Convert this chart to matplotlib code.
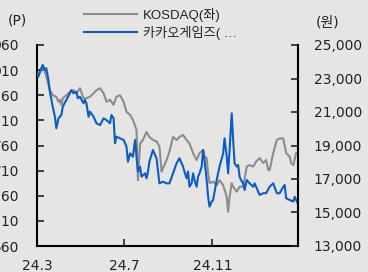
import matplotlib
matplotlib.use("Agg")
import matplotlib.pyplot as plt
import pandas as pd

plt.rcParams['font.family'] = ['DejaVu Sans', 'Noto Sans CJK KR']

# ========== DATA ==========
kosdaq_dates = [
    "2024-03-01", "2024-03-05", "2024-03-09", "2024-03-12", "2024-03-14", "2024-03-19",
    "2024-03-23", "2024-03-28", "2024-03-31", "2024-04-02", "2024-04-04", "2024-04-06",
    "2024-04-11", "2024-04-16", "2024-04-21", "2024-04-25", "2024-04-30", "2024-05-05",
    "2024-05-09", "2024-05-14", "2024-05-19", "2024-05-23", "2024-05-28", "2024-06-02",
    "2024-06-06", "2024-06-11", "2024-06-16", "2024-06-20", "2024-06-25", "2024-06-30",
    "2024-07-04", "2024-07-09", "2024-07-13", "2024-07-18", "2024-07-20", "2024-07-23",
    "2024-07-27", "2024-08-01", "2024-08-05", "2024-08-10", "2024-08-15", "2024-08-19",
    "2024-08-22", "2024-08-24", "2024-08-29", "2024-09-02", "2024-09-07", "2024-09-12",
    "2024-09-16", "2024-09-21", "2024-09-26", "2024-09-30", "2024-10-05", "2024-10-10",
    "2024-10-14", "2024-10-19", "2024-10-21", "2024-10-24", "2024-10-26", "2024-10-28",
    "2024-11-02", "2024-11-07", "2024-11-11", "2024-11-16", "2024-11-21", "2024-11-23",
    "2024-11-25", "2024-11-28", "2024-11-30", "2024-12-05", "2024-12-09", "2024-12-14",
    "2024-12-19", "2024-12-23", "2024-12-28", "2025-01-01", "2025-01-06", "2025-01-11",
    "2025-01-15", "2025-01-18", "2025-01-20", "2025-01-25", "2025-01-30", "2025-02-03",
    "2025-02-08", "2025-02-12", "2025-02-17", "2025-02-19", "2025-02-22", "2025-02-26",
]
kosdaq_vals = [
    900, 904, 917, 907, 897, 870,
    860, 857, 847, 851, 841, 854,
    860, 867, 870, 864, 874, 854,
    854, 857, 864, 870, 874, 864,
    847, 851, 841, 857, 860, 847,
    827, 821, 811, 791, 691, 764,
    771, 787, 777, 771, 768, 758,
    708, 715, 731, 748, 777, 771,
    777, 781, 771, 764, 745, 731,
    745, 751, 738, 735, 705, 685,
    688, 681, 691, 681, 658, 628,
    658, 685, 678, 668, 678, 678,
    718, 721, 718, 728, 735, 725,
    731, 711, 711, 745, 771, 774,
    774, 745, 738, 725, 721, 745,
]

kakao_dates = [
    "2024-03-01", "2024-03-03", "2024-03-05", "2024-03-09", "2024-03-12", "2024-03-14",
    "2024-03-17", "2024-03-19", "2024-03-23", "2024-03-26", "2024-03-28", "2024-03-31",
    "2024-04-04", "2024-04-06", "2024-04-11", "2024-04-16", "2024-04-18", "2024-04-21",
    "2024-04-25", "2024-04-27", "2024-04-30", "2024-05-05", "2024-05-07", "2024-05-09",
    "2024-05-12", "2024-05-14", "2024-05-19", "2024-05-23", "2024-05-28", "2024-06-02",
    "2024-06-06", "2024-06-11", "2024-06-13", "2024-06-16", "2024-06-18", "2024-06-20",
    "2024-06-25", "2024-06-30", "2024-07-04", "2024-07-06", "2024-07-09", "2024-07-13",
    "2024-07-16", "2024-07-18", "2024-07-20", "2024-07-23", "2024-07-25", "2024-07-30",
    "2024-08-01", "2024-08-03", "2024-08-05", "2024-08-10", "2024-08-12", "2024-08-15",
    "2024-08-19", "2024-08-24", "2024-08-29", "2024-09-02", "2024-09-07", "2024-09-12",
    "2024-09-16", "2024-09-21", "2024-09-23", "2024-09-26", "2024-09-28", "2024-09-30",
    "2024-10-03", "2024-10-05", "2024-10-07", "2024-10-10", "2024-10-12", "2024-10-14",
    "2024-10-17", "2024-10-19", "2024-10-21", "2024-10-24", "2024-10-26", "2024-10-28",
    "2024-10-31", "2024-11-02", "2024-11-07", "2024-11-11", "2024-11-16", "2024-11-18",
    "2024-11-21", "2024-11-23", "2024-11-25", "2024-11-28", "2024-11-30", "2024-12-02",
    "2024-12-05", "2024-12-07", "2024-12-09", "2024-12-11", "2024-12-14", "2024-12-16",
    "2024-12-19", "2024-12-23", "2024-12-28", "2024-12-30", "2025-01-01", "2025-01-06",
    "2025-01-11", "2025-01-15", "2025-01-20", "2025-01-25", "2025-01-30", "2025-02-03",
    "2025-02-08", "2025-02-10", "2025-02-12", "2025-02-17", "2025-02-22", "2025-02-24",
    "2025-02-26", "2025-02-28",
]
kakao_vals = [
    23310, 23110, 23410, 23810, 23510, 23610,
    22910, 22210, 21320, 20720, 20030, 20620,
    20820, 21320, 21720, 22120, 22310, 22120,
    22210, 21820, 21910, 21520, 21720, 21520,
    20720, 21020, 20720, 20330, 20220, 20620,
    20520, 20330, 20820, 20620, 19130, 19530,
    19430, 19330, 18930, 18030, 18530, 18330,
    19330, 18330, 17440, 17740, 17140, 17340,
    17040, 17440, 18030, 18730, 18530, 18240,
    16740, 16840, 16740, 16740, 17340, 17940,
    18240, 17740, 17440, 17040, 17440, 16540,
    16740, 17340, 16940, 16540, 17140, 17340,
    17740, 18730, 18130, 16940, 15940, 15350,
    15650, 15750, 16940, 17740, 18530, 19430,
    18330, 17340, 18730, 20920, 19330, 17940,
    17740, 17840, 17140, 16940, 16740, 16340,
    16940, 16740, 16540, 16740, 16540, 16050,
    16150, 16150, 16540, 16740, 16150, 16150,
    16540, 16640, 15850, 15750, 15650, 15940,
    15750, 15550,
]

left_ticks = [560, 610, 660, 710, 760, 810, 860, 910, 960]
right_ticks = [13000, 15000, 17000, 19000, 21000, 23000, 25000]
x_tick_dates = ["2024-03-01", "2024-07-01", "2024-11-01"]
x_tick_labels = ["24.3", "24.7", "24.11"]
legend_labels = ["KOSDAQ(좌)", "카카오게임즈( …"]

BG = '#e7e4e4'
GRAY = '#8c8c8c'
BLUE = '#0a5cc6'
TXT = '#222222'

# ========== PLOT ==========
fig = plt.figure(figsize=(3.68, 2.72), dpi=100, facecolor=BG)
ax = fig.add_axes([37 / 368, 1 - 246 / 272, 261.3 / 368, 201 / 272])
ax.set_facecolor(BG)
ax2 = ax.twinx()

l1, = ax.plot(pd.to_datetime(kosdaq_dates), kosdaq_vals, color=GRAY, lw=1.5)
l2, = ax2.plot(pd.to_datetime(kakao_dates), kakao_vals, color=BLUE, lw=1.5)

ax.set_xlim(pd.Timestamp("2024-03-01"), pd.Timestamp("2025-03-01"))
ax.set_ylim(560, 960)
ax2.set_ylim(13000, 25000)
ax.set_yticks(left_ticks)
ax2.set_yticks(right_ticks)
ax2.set_yticklabels([f"{v:,}" for v in right_ticks])
ax.set_xticks(pd.to_datetime(x_tick_dates))
ax.set_xticklabels(x_tick_labels)

for a in (ax, ax2):
    a.spines['top'].set_visible(False)
    for s in ('left', 'right', 'bottom'):
        a.spines[s].set_linewidth(1.5)
ax.spines['right'].set_visible(False)
ax2.spines['left'].set_visible(False)
ax2.spines['bottom'].set_visible(False)

ax.tick_params(axis='y', direction='in', length=5, width=1.2, pad=13, labelsize=10, colors=TXT)
ax.tick_params(axis='x', direction='in', length=5, width=1.2, pad=9, labelsize=10, colors=TXT)
ax2.tick_params(axis='y', direction='in', length=5, width=1.2, pad=11, labelsize=10, colors=TXT)

fig.text(17 / 368, 1 - 21 / 272, "(P)", ha='center', va='center', fontsize=10, color=TXT)
fig.text(328 / 368, 1 - 23 / 272, "(원)", ha='center', va='center', fontsize=10, color=TXT)

leg = fig.legend([l1, l2], legend_labels, loc='upper left',
                 bbox_to_anchor=(84 / 368, 1 - 8 / 272), frameon=False, borderpad=0,
                 borderaxespad=0, handlelength=4.0, handletextpad=0.45, labelspacing=0.3,
                 prop={'family': ['Liberation Sans', 'Noto Sans CJK KR'], 'size': 9.5},
                 labelcolor=TXT)

fig.savefig("out.png", dpi=100, facecolor=BG)
